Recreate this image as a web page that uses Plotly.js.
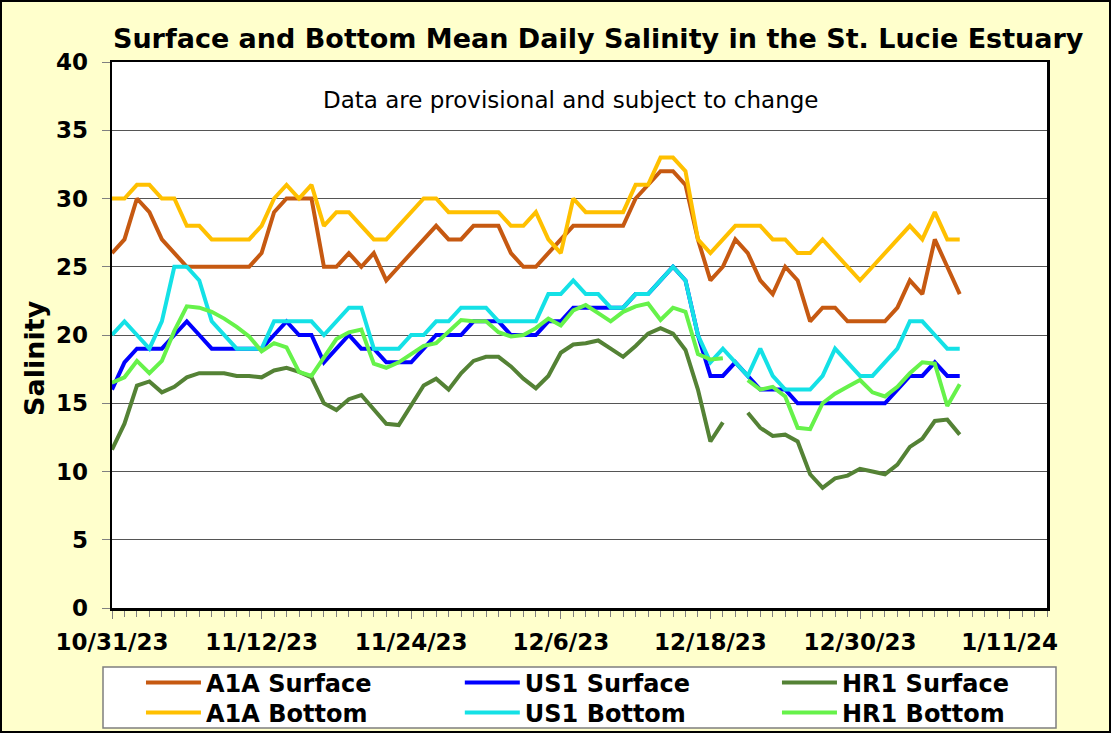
<!DOCTYPE html>
<html><head><meta charset="utf-8">
<script src="https://cdn.plot.ly/plotly-3.0.1.min.js"></script>
<style>
html,body{margin:0;padding:0;background:#FFFFCC;}
#wrap{position:relative;width:1111px;height:733px;}
#chart{width:1111px;height:733px;}
#frame{position:absolute;left:0;top:0;width:1111px;height:733px;box-sizing:border-box;border:2px solid #000;pointer-events:none;}
</style></head><body>
<div id="wrap"><div id="chart"></div><div id="frame"></div></div>
<script>
// ---- data (daily means, first day 10/31/23) ----
const startDate = '2023-10-31';
const a1aSurface = [26,27,30,29,27,26,25,25,25,25,25,25,26,29,30,30,30,25,25,26,
  25,26,24,25,26,27,28,27,27,28,28,28,26,25,25,26,27,28,
  28,28,28,28,30,31,32,32,31,27,24,25,27,26,24,23,25,24,21,
  22,22,21,21,21,21,22,24,23,27,25,23];
const a1aBottom = [30,30,31,31,30,30,28,28,27,27,27,27,28,30,31,30,31,28,29,29,
  28,27,27,28,29,30,30,29,29,29,29,29,28,28,29,27,26,30,
  29,29,29,29,31,31,33,33,32,27,26,27,28,28,28,27,27,26,26,
  27,26,25,24,25,26,27,28,27,29,27,27];
const us1Surface = [16,18,19,19,19,20,21,20,19,19,19,19,19,20,21,20,20,18,19,20,
  19,19,18,18,18,19,20,20,20,21,21,21,20,20,20,21,21,22,
  22,22,22,22,23,23,24,25,24,20,17,17,18,17,16,16,16,15,15,
  15,15,15,15,15,15,16,17,17,18,17,17];
const us1Bottom = [20,21,20,19,21,25,25,24,21,20,19,19,19,21,21,21,21,20,21,22,
  22,19,19,19,20,20,21,21,22,22,22,21,21,21,21,23,23,24,
  23,23,22,22,23,23,24,25,24,20,18,19,18,17,19,17,16,16,16,
  17,19,18,17,17,18,19,21,21,20,19,19];
const hr1Surface = [11.6,13.5,16.3,16.6,15.8,16.2,16.9,17.2,17.2,17.2,17.0,17.0,16.9,17.4,17.6,17.3,16.9,15.0,14.5,15.3,
  15.6,14.6,13.5,13.4,14.9,16.3,16.8,16.0,17.2,18.1,18.4,18.4,17.7,16.8,16.1,17.0,18.7,19.3,
  19.4,19.6,19.0,18.4,19.2,20.1,20.5,20.1,18.9,16.0,12.2,13.6,null,14.3,13.2,12.6,12.7,12.2,9.8,
  8.8,9.5,9.7,10.2,10.0,9.8,10.5,11.8,12.4,13.7,13.8,12.7];
const hr1Bottom = [16.5,16.9,18.1,17.2,18.1,20.3,22.1,22.0,21.7,21.2,20.6,19.9,18.8,19.4,19.1,17.3,17.0,18.3,19.7,20.2,
  20.4,17.9,17.6,18.0,18.6,19.2,19.4,20.3,21.1,21.0,21.0,20.2,19.9,20.0,20.5,21.2,20.7,21.8,
  22.2,21.6,21.0,21.7,22.1,22.3,21.1,22.0,21.7,18.6,18.2,18.3,null,16.7,16.0,16.2,15.5,13.2,13.1,
  15.0,15.7,16.2,16.7,15.8,15.5,16.2,17.2,18.0,17.9,14.8,16.4];

const seriesNames = ['A1A Surface','A1A Bottom','US1 Surface','US1 Bottom','HR1 Surface','HR1 Bottom'];
const seriesValues = [a1aSurface,a1aBottom,us1Surface,us1Bottom,hr1Surface,hr1Bottom];
const seriesColors = ['#C65911','#FFC000','#0000FF','#14E1E6','#548235','#66F24A'];
const yTicks = [0,5,10,15,20,25,30,35,40];

function dayList(start, n){
  const out=[]; const d0=new Date(start+'T00:00:00Z');
  for(let i=0;i<n;i++){ out.push(new Date(d0.getTime()+i*86400000).toISOString().slice(0,10)); }
  return out;
}
const dates = dayList(startDate, a1aSurface.length);

// legend placement: column (by station) and row (surface / bottom)
const legCol = [0,0,1,1,2,2];
const legRow = [0,1,0,1,0,1];
const colX = [0.0310,0.3720,0.7112];
const rowY = [-0.1374,-0.1923];

const FONT = 'DejaVu Sans';
const traces = seriesNames.map((n,i)=>({
  type:'scatter', mode:'lines', name:n, x:dates, y:seriesValues[i],
  line:{color:seriesColors[i], width:4}, connectgaps:false,
  legend: i===0 ? 'legend' : 'legend'+(i+1)
}));

const layout = {
  width:1111, height:733,
  paper_bgcolor:'#FFFFCC', plot_bgcolor:'#FFFFFF',
  margin:{l:112, r:64, t:62, b:125, autoexpand:false},
  font:{family:FONT, color:'#000'},
  showlegend:true,
  title:{text:'Surface and Bottom Mean Daily Salinity in the St. Lucie Estuary',
    font:{family:FONT, size:27, weight:'bold', color:'#000'},
    xref:'paper', x:0.52, xanchor:'center', yref:'container', y:0.948, yanchor:'middle'},
  xaxis:{type:'date', range:['2023-10-31','2024-01-14'], tick0:'2023-10-31', dtick:12*86400000,
    tickformat:'%-m/%-d/%y', ticks:'outside', ticklen:8, tickcolor:'#808080', tickwidth:1,
    tickfont:{family:FONT, size:23, weight:'bold', color:'#000'}, ticklabelstandoff:4,
    showgrid:false, showline:true, linecolor:'#000', linewidth:2.5, mirror:true, zeroline:false,
    minor:{dtick:86400000, ticks:'outside', ticklen:6, tickcolor:'#808080', tickwidth:1, showgrid:false}},
  yaxis:{range:[0,40], tickvals:yTicks, ticks:'outside', ticklen:8, tickcolor:'#808080',
    tickfont:{family:FONT, size:23, weight:'bold', color:'#000'}, ticklabelstandoff:9,
    showgrid:true, gridcolor:'#555555', gridwidth:1, zeroline:false,
    showline:true, linecolor:'#000', linewidth:2.5, mirror:true},
  shapes:[{type:'rect', xref:'paper', yref:'paper', layer:'below',
    x0:(103-112)/935, x1:(1056-112)/935, y0:(608-728)/546, y1:(608-667)/546,
    fillcolor:'#FFFFFF', line:{color:'#7F7F7F', width:1.5}}],
  annotations:[
    {text:'Data are provisional and subject to change', xref:'paper', yref:'paper',
     x:0.49, y:0.930, xanchor:'center', yanchor:'middle', showarrow:false,
     font:{family:FONT, size:23, color:'#000'}},
    {text:'Salinity', xref:'paper', yref:'paper', x:-0.0824, y:0.458, textangle:-90,
     xanchor:'center', yanchor:'middle', showarrow:false,
     font:{family:FONT, size:27, weight:'bold', color:'#000'}}
  ]
};
seriesNames.forEach((n,i)=>{
  const key = i===0 ? 'legend' : 'legend'+(i+1);
  layout[key] = {x:colX[legCol[i]], y:rowY[legRow[i]], xanchor:'left', yanchor:'middle',
    xref:'paper', yref:'paper', bgcolor:'rgba(0,0,0,0)', borderwidth:0, itemwidth:55,
    font:{family:FONT, size:24, weight:'bold', color:'#000'}};
});
Plotly.newPlot('chart', traces, layout, {displayModeBar:false, staticPlot:true});
</script>
</body></html>
